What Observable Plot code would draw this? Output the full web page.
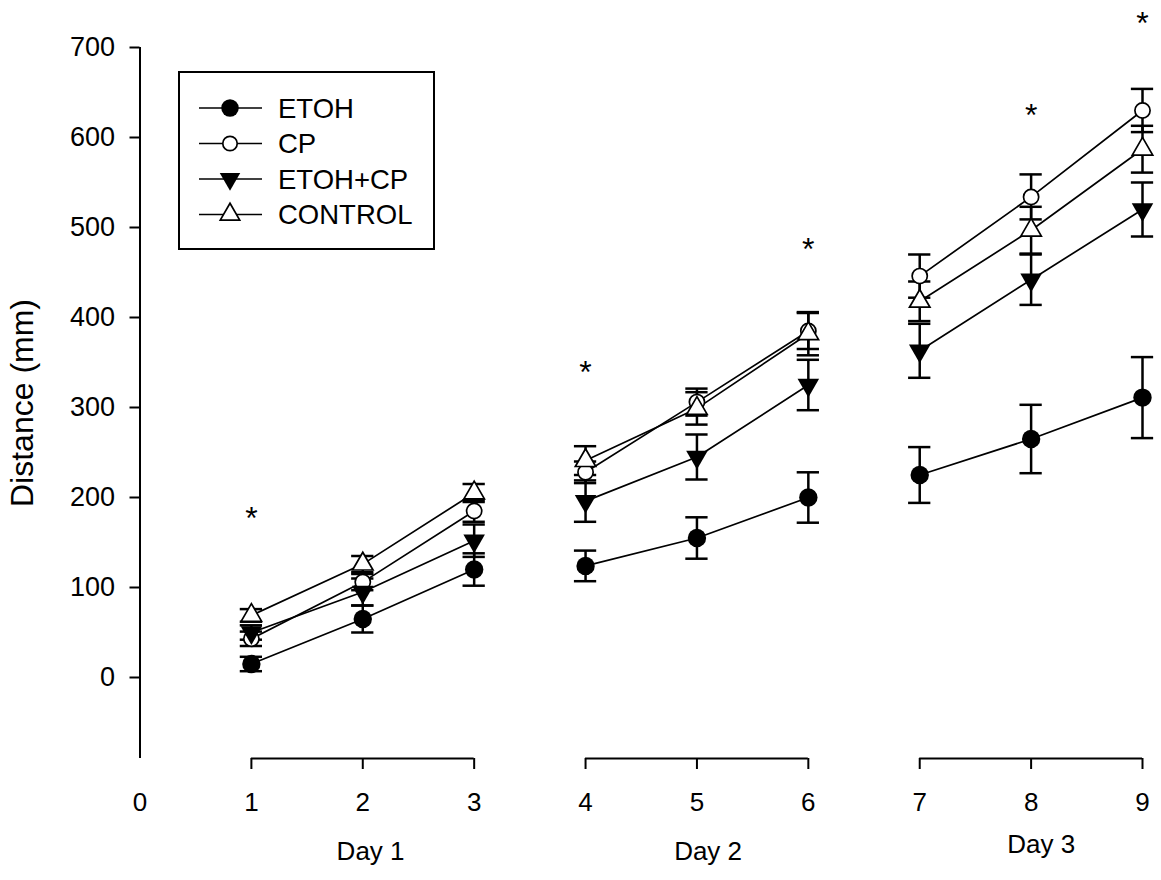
<!DOCTYPE html>
<html><head><meta charset="utf-8">
<script src="https://cdn.jsdelivr.net/npm/d3@7"></script>
<script src="https://cdn.jsdelivr.net/npm/@observablehq/plot@0.6"></script>
<style>
body{margin:0;background:#fff;font-family:"Liberation Sans",Arial,sans-serif;}
#wrap{position:relative;width:1161px;height:880px;}
#wrap svg{display:block;}
#legend{position:absolute;left:0;top:0;pointer-events:none;}
</style></head><body><div id="wrap"></div>
<script>
// ---- data ----
const trials = [1, 2, 3, 4, 5, 6, 7, 8, 9];
const seriesNames = ["ETOH", "CP", "ETOH+CP", "CONTROL"];
const etohMean    = [15, 65, 120, 124, 155, 200, 225, 265, 311];
const etohErr     = [8, 15, 18, 17, 23, 28, 31, 38, 45];
const cpMean      = [43, 106, 185, 228, 306, 385, 446, 534, 630];
const cpErr       = [8, 9, 12, 12, 15, 20, 24, 25, 24];
const etohCpMean  = [50, 95, 152, 196, 245, 325, 363, 442, 520];
const etohCpErr   = [8, 15, 18, 23, 25, 28, 30, 28, 30];
const controlMean = [69, 126, 205, 241, 299, 382, 418, 497, 587];
const controlErr  = [7, 9, 10, 16, 18, 24, 22, 26, 26];
const sigTrials = [1, 4, 6, 8, 9];
const sigValues = [176, 339, 475, 624, 726];
const dayNames = ["Day 1", "Day 2", "Day 3"];
const dayStart = [1, 4, 7];
const dayEnd   = [3, 6, 9];
const dayMid   = [2.07, 5.1, 8.09];
const yTicks = [0, 100, 200, 300, 400, 500, 600, 700];
const xTickLabels = [0, 1, 2, 3, 4, 5, 6, 7, 8, 9];
const yLabel = "Distance (mm)";

// ---- derived tables ----
const means = [etohMean, cpMean, etohCpMean, controlMean];
const errs = [etohErr, cpErr, etohCpErr, controlErr];
const rows = [];
seriesNames.forEach((s, si) => trials.forEach((t, i) => rows.push({
  series: s, trial: t, day: Math.ceil(t / 3), mean: means[si][i], err: errs[si][i]
})));
const days = dayNames.map((name, i) => ({name, start: dayStart[i], end: dayEnd[i], mid: dayMid[i]}));
const sig = sigTrials.map((t, i) => ({trial: t, value: sigValues[i]}));

const triDown = {
  draw(ctx, size) {
    const y = Math.sqrt(size / (Math.sqrt(3) * 3));
    ctx.moveTo(0, y * 2);
    ctx.lineTo(-Math.sqrt(3) * y, -y);
    ctx.lineTo(Math.sqrt(3) * y, -y);
    ctx.closePath();
  }
};
const styles = {
  "ETOH":    {symbol: d3.symbolCircle, fill: "black", stroke: "none", r: 9.2},
  "CP":      {symbol: d3.symbolCircle, fill: "white", stroke: "black", r: 7.6},
  "ETOH+CP": {symbol: triDown, fill: "black", stroke: "none", r: 8},
  "CONTROL": {symbol: d3.symbolTriangle, fill: "white", stroke: "black", r: 7.6}
};
const yMin = -90, yMax = 700;
const capHalf = 0.1;
const font = '"Liberation Sans", Arial, sans-serif';

const plot = Plot.plot({
  width: 1161, height: 880,
  marginLeft: 139.5, marginRight: 19, marginTop: 47, marginBottom: 122,
  style: {fontFamily: font, color: "black", background: "white", overflow: "visible"},
  x: {domain: [0, 9], axis: null},
  y: {domain: [yMin, yMax], axis: null},
  marks: [
    Plot.ruleX([0], {stroke: "black", strokeWidth: 2}),
    Plot.ruleY(days, {x1: "start", x2: "end", y: yMin, stroke: "black", strokeWidth: 2.2}),
    Plot.axisY({ticks: yTicks, tickSize: 10, tickFormat: () => "", label: null, strokeWidth: 2}),
    Plot.text(yTicks, {x: 0, y: d => d, text: d => String(d), textAnchor: "end", lineAnchor: "middle", dx: -25, fontSize: 27}),
    Plot.axisX({ticks: trials, tickSize: 11, tickFormat: () => "", label: null, strokeWidth: 2}),
    Plot.text(xTickLabels, {x: d => d, text: d => String(d), frameAnchor: "bottom", lineAnchor: "top", dy: 34, fontSize: 26}),
    Plot.text(days, {x: "mid", text: "name", frameAnchor: "bottom", dy: 101, fontSize: 26, filter: d => d.name !== "Day 3"}),
    Plot.text(days, {x: "mid", text: "name", frameAnchor: "bottom", dy: 94, fontSize: 26, filter: d => d.name === "Day 3"}),
    Plot.text([yLabel], {text: d => d, frameAnchor: "left", textAnchor: "middle", rotate: -90, dx: -117, fontSize: 32}),
    Plot.line(rows, {x: "trial", y: "mean", z: d => d.series + d.day, stroke: "black", strokeWidth: 1.7}),
    Plot.ruleX(rows, {x: "trial", y1: d => d.mean - d.err, y2: d => d.mean + d.err, stroke: "black", strokeWidth: 2.5}),
    Plot.ruleY(rows, {y: d => d.mean + d.err, x1: d => d.trial - capHalf, x2: d => d.trial + capHalf, stroke: "black", strokeWidth: 2.5}),
    Plot.ruleY(rows, {y: d => d.mean - d.err, x1: d => d.trial - capHalf, x2: d => d.trial + capHalf, stroke: "black", strokeWidth: 2.5}),
    ...seriesNames.map(s => Plot.dot(rows.filter(d => d.series === s), {
      x: "trial", y: "mean", symbol: styles[s].symbol,
      r: styles[s].r, fill: styles[s].fill, stroke: styles[s].stroke, strokeWidth: 1.7
    })),
    Plot.text(sig, {x: "trial", y: "value", text: () => "*", fontSize: 32})
  ]
});
const wrap = document.getElementById("wrap");
wrap.appendChild(plot);

// ---- legend (overlay) ----
const lg = d3.select(wrap).append("svg").attr("id", "legend")
  .attr("width", 1161).attr("height", 880);
lg.append("rect").attr("x", 179).attr("y", 72).attr("width", 255).attr("height", 177)
  .attr("fill", "none").attr("stroke", "black").attr("stroke-width", 2);
seriesNames.forEach((s, i) => {
  const cy = 108 + i * 35.5;
  const g = lg.append("g");
  g.append("line").attr("x1", 199).attr("x2", 262).attr("y1", cy).attr("y2", cy)
    .attr("stroke", "black").attr("stroke-width", 1.7);
  const st = styles[s];
  const r = st.r * 0.95;
  g.append("path").attr("d", d3.symbol(st.symbol, Math.PI * r * r)())
    .attr("transform", `translate(230,${cy})`)
    .attr("fill", st.fill).attr("stroke", st.stroke).attr("stroke-width", 1.7);
  g.append("text").attr("x", 278).attr("y", cy).attr("dy", "0.36em")
    .attr("font-family", font).attr("font-size", 27.5)
    .text(s);
});
</script>
</body></html>
